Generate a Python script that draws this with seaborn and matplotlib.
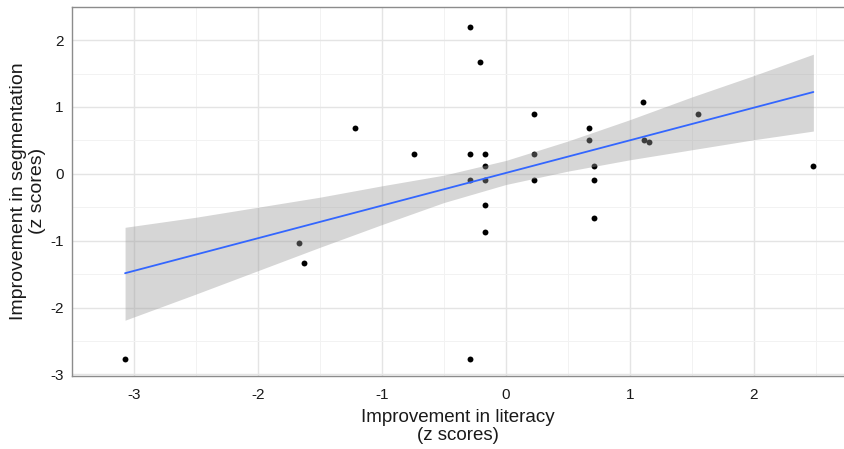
import numpy as np
import pandas as pd
import matplotlib
matplotlib.use("Agg")
import matplotlib.pyplot as plt
import seaborn as sns

# values
literacy = [-3.07, -1.67, -1.63, -1.22, -0.74,
            -0.29, -0.29, -0.29, -0.29, -0.21,
            -0.17, -0.17, -0.17, -0.17, -0.17,
            0.225, 0.225, 0.225, 0.667, 0.667,
            0.713, 0.713, 0.713, 1.11, 1.115,
            1.155, 1.55, 2.48]
segmentation = [-2.77, -1.04, -1.33, 0.69, 0.30,
                2.20, 0.30, -0.09, -2.77, 1.67,
                0.30, 0.11, -0.09, -0.47, -0.87,
                0.89, 0.30, -0.09, 0.69, 0.50,
                0.11, -0.09, -0.66, 1.08, 0.50,
                0.48, 0.89, 0.11]

# confidence ribbon of the fitted line, edges
band_x = [-3.07, -2.5, -2.0, -1.5, -1.0, -0.5, 0.0, 0.5, 1.0, 1.5, 2.0, 2.48]
band_low = [-2.19, -1.80, -1.45, -1.10, -0.76, -0.43, -0.16, 0.04, 0.21, 0.36, 0.51, 0.64]
band_high = [-0.80, -0.65, -0.50, -0.35, -0.18, -0.02, 0.20, 0.49, 0.81, 1.15, 1.47, 1.79]

x_ticks = [-3, -2, -1, 0, 1, 2]
y_ticks = [-3, -2, -1, 0, 1, 2]

df = pd.DataFrame({"literacy": literacy, "segmentation": segmentation})

sns.set_style("white")
plt.rcParams["font.family"] = ["Liberation Sans", "DejaVu Sans"]
plt.rcParams["axes.unicode_minus"] = False

fig = plt.figure(figsize=(8.44, 4.49), dpi=100)
ax = fig.add_axes([0.085, 0.1633, 0.915, 0.8217])

# points first, so the ribbon greys the ones it covers (as ggplot does)
sns.scatterplot(data=df, x="literacy", y="segmentation", ax=ax, color="black",
                s=18, linewidth=0, zorder=2)
ax.fill_between(band_x, band_low, band_high, color="#999999", alpha=0.4,
                linewidth=0, zorder=3)
sns.regplot(data=df, x="literacy", y="segmentation", ax=ax, scatter=False,
            ci=None, color="#3366FF", line_kws=dict(lw=1.3, zorder=4))

ax.set_xlim(-3.345, 2.727)
ax.set_ylim(-3.02, 2.45)
ax.set_xticks(x_ticks)
ax.set_yticks(y_ticks)
ax.set_xticks(np.arange(-3.5, 3.0, 1.0), minor=True)
ax.set_yticks(np.arange(-2.5, 2.6, 1.0), minor=True)
ax.grid(which="major", color="#E4E4E4", lw=1.0, zorder=0)
ax.grid(which="minor", color="#F2F2F2", lw=0.7, zorder=0)
ax.set_axisbelow(True)

ax.tick_params(axis="both", which="major", direction="out", length=3, width=0.8,
               color="#555555", labelsize=11, labelcolor="#1a1a1a")
ax.tick_params(axis="x", which="major", pad=6)
ax.tick_params(axis="y", which="major", pad=3)
ax.tick_params(which="minor", length=0)

for side in ["top", "left", "bottom"]:
    ax.spines[side].set_color("#8c8c8c")
    ax.spines[side].set_linewidth(1.0)
ax.spines["right"].set_visible(False)

ax.set_xlabel("Improvement in literacy\n(z scores)", fontsize=13.5, labelpad=5,
              linespacing=1.1, color="#1a1a1a")
ax.set_ylabel("Improvement in segmentation\n(z scores)", fontsize=14, labelpad=3,
              linespacing=1.15, color="#1a1a1a")

plt.savefig("out.png", dpi=100)
plt.close()
